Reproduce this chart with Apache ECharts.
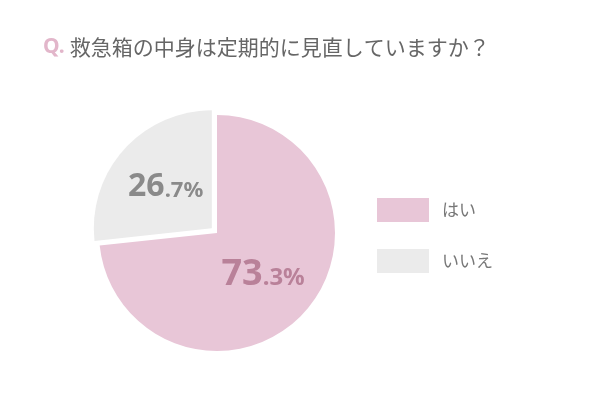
<!DOCTYPE html>
<html><head><meta charset="utf-8">
<script src="https://cdn.jsdelivr.net/npm/echarts@6/dist/echarts.min.js"></script>
<style>html,body{margin:0;background:#fff}#c{width:600px;height:400px}</style>
</head><body><div id="c"></div>
<script>
var names = ['はい', 'いいえ'];
var values = [73.3, 26.7];
var colors = ['#e8c6d7', '#ebebeb'];
var labelColors = ['#b98199', '#8a8a8a'];

var chart = echarts.init(document.getElementById('c'));
chart.setOption({
  backgroundColor: '#fff',
  title: {
    left: 38, top: 32,
    text: '{q|Q.} {t|救急箱の中身は定期的に見直していますか？}',
    textStyle: {
      rich: {
        q: { color: '#e2b6ca', fontSize: 21, fontWeight: 'bold', fontFamily: 'Noto Sans' },
        t: { color: '#666', fontSize: 21, fontWeight: 'normal', fontFamily: 'Noto Sans CJK JP' }
      }
    }
  },
  legend: {
    orient: 'vertical', left: 372, top: 193,
    itemWidth: 52, itemHeight: 24, itemGap: 27,
    icon: 'rect',
    textStyle: { color: '#777', fontSize: 17, fontFamily: 'Noto Sans CJK JP', padding: [0, 0, 0, 8] },
    data: names
  },
  series: [{
    type: 'pie',
    center: [217, 233], radius: 118,
    startAngle: 90, clockwise: true,
    selectedMode: 'single', selectedOffset: 7,
    silent: true, animation: false,
    label: {
      position: 'inside',
      formatter: function (p) {
        var s = p.value.toFixed(1).split('.');
        return '{b' + p.dataIndex + '|' + s[0] + '}{s' + p.dataIndex + '|.' + s[1] + '%}';
      },
      rich: {
        b0: { fontSize: 36, fontWeight: 'bold', color: labelColors[0], fontFamily: 'Noto Sans' },
        s0: { fontSize: 24, fontWeight: 'bold', color: labelColors[0], fontFamily: 'Noto Sans', padding: [8, 0, 0, 0] },
        b1: { fontSize: 32, fontWeight: 'bold', color: labelColors[1], fontFamily: 'Noto Sans' },
        s1: { fontSize: 22, fontWeight: 'bold', color: labelColors[1], fontFamily: 'Noto Sans', padding: [7, 0, 0, 0] }
      }
    },
    labelLine: { show: false },
    data: names.map(function (n, i) {
      return { name: n, value: values[i], selected: i === 1, itemStyle: { color: colors[i] } };
    })
  }]
});
</script></body></html>
